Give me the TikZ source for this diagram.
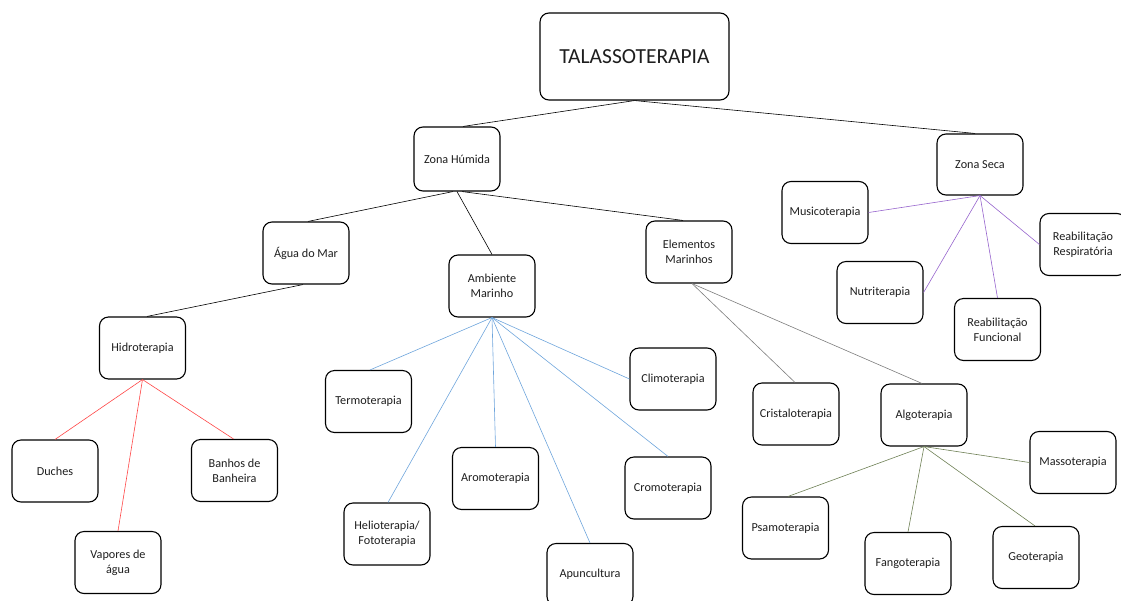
\documentclass[tikz,border=0pt]{standalone}
\usepackage{fontspec}
\setmainfont{Carlito}
\definecolor{redline}{RGB}{255,70,70}
\definecolor{blueline}{RGB}{110,165,220}
\definecolor{purpleline}{RGB}{150,100,205}
\definecolor{grayline}{RGB}{125,125,125}
\definecolor{greenline}{RGB}{110,128,85}
\definecolor{txt}{RGB}{30,30,30}
\begin{document}
\begin{tikzpicture}[x=1pt,y=-1pt,
  box/.style={draw=black, line width=1.1pt, rounded corners=9pt, minimum width=86pt, minimum height=62pt,
    align=center, font=\fontsize{12.2}{15}\selectfont, text=txt, inner sep=2pt},
  link/.style={line width=0.6pt}]
\useasboundingbox (0,0) rectangle (1121,600);
\node[box, minimum width=189pt, minimum height=87pt, font=\fontsize{21.5}{25}\selectfont] (tal) at (634.5,56.5) {TALASSOTERAPIA};
\node[box, minimum height=64pt] (zh) at (457,159) {Zona Húmida};
\node[box, minimum height=61pt] (zs) at (980,164.5) {Zona Seca};
\node[box] (musico) at (825,212.5) {Musicoterapia};
\node[box] (rresp) at (1083,244.5) {Reabilitação\\Respiratória};
\node[box] (nutri) at (880,292.5) {Nutriterapia};
\node[box] (rfunc) at (997.5,329.5) {Reabilitação\\Funcional};
\node[box] (agua) at (306,253) {Água do Mar};
\node[box] (amb) at (492,286) {Ambiente\\Marinho};
\node[box] (elem) at (689,252) {Elementos\\Marinhos};
\node[box] (hidro) at (142.5,348) {Hidroterapia};
\node[box] (duches) at (55,471) {Duches};
\node[box] (banhos) at (234.5,470.5) {Banhos de\\Banheira};
\node[box] (vapores) at (118,562.5) {Vapores de\\água};
\node[box] (termo) at (368.5,401.5) {Termoterapia};
\node[box] (helio) at (387,534) {Helioterapia/\\Fototerapia};
\node[box] (aromo) at (495.5,478.5) {Aromoterapia};
\node[box] (apun) at (590,574.5) {Apuncultura};
\node[box] (climo) at (673,379) {Climoterapia};
\node[box] (cromo) at (668,488) {Cromoterapia};
\node[box] (cristal) at (796,414) {Cristaloterapia};
\node[box] (algo) at (924,415) {Algoterapia};
\node[box] (masso) at (1073,462.5) {Massoterapia};
\node[box] (psamo) at (785.5,528) {Psamoterapia};
\node[box] (fango) at (908,563.5) {Fangoterapia};
\node[box] (geo) at (1036,557.5) {Geoterapia};
% top level
\draw[link] (tal.south) -- ([xshift=6pt]zh.north);
\draw[link] (tal.south) -- ([xshift=-5pt]zs.north);
% zona humida
\draw[link] ([xshift=-4pt]zh.south) -- ([xshift=2pt]agua.north);
\draw[link] (zh.south) -- (amb.north);
\draw[link] ([xshift=5pt]zh.south) -- ([xshift=-6pt]elem.north);
\draw[link] ([xshift=-3pt]agua.south) -- ([xshift=4.5pt]hidro.north);
% hidroterapia
\draw[link, redline] (hidro.south) -- (duches.north);
\draw[link, redline] (hidro.south) -- (vapores.north);
\draw[link, redline] (hidro.south) -- ([xshift=-1pt]banhos.north);
% ambiente marinho
\draw[link, blueline] (amb.south) -- ([xshift=1.5pt]termo.north);
\draw[link, blueline] (amb.south) -- ([xshift=1pt]helio.north);
\draw[link, blueline] (amb.south) -- (aromo.north);
\draw[link, blueline] (amb.south) -- (apun.north);
\draw[link, blueline] (amb.south) -- (cromo.north);
\draw[link, blueline] (amb.south) -- (climo.west);
% elementos marinhos
\draw[link, grayline] ([xshift=3pt]elem.south) -- ([xshift=-1pt]cristal.north);
\draw[link, grayline] ([xshift=3pt]elem.south) -- ([xshift=-2pt]algo.north);
% algoterapia
\draw[link, greenline] (algo.south) -- ([xshift=2.5pt]psamo.north);
\draw[link, greenline] (algo.south) -- (fango.north);
\draw[link, greenline] (algo.south) -- ([xshift=-1pt]geo.north);
\draw[link, greenline] (algo.south) -- (masso.west);
% zona seca
\draw[link, purpleline] (zs.south) -- (musico.east);
\draw[link, purpleline] (zs.south) -- (nutri.east);
\draw[link, purpleline] (zs.south) -- (rfunc.north);
\draw[link, purpleline] (zs.south) -- (rresp.west);
\end{tikzpicture}
\end{document}
